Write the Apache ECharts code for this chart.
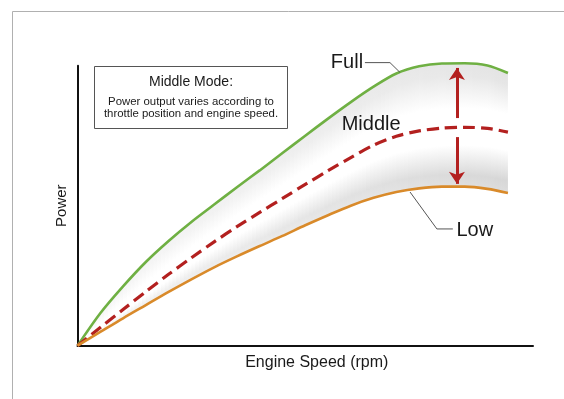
<!DOCTYPE html>
<html>
<head>
<meta charset="utf-8">
<script src="https://cdn.jsdelivr.net/npm/echarts@6/dist/echarts.min.js"></script>
<style>
  html, body { margin: 0; padding: 0; background: #ffffff; }
  #chart { width: 564px; height: 399px; }
</style>
</head>
<body>
<div id="chart"></div>
<script>
// ---- Data (arbitrary 0–100 units) ----
const engineSpeed = [0, 5, 10, 15, 20, 25, 30, 35, 40, 45, 50, 55, 60, 65, 70, 75, 80, 85, 90, 94.5];
const fullPower   = [0, 11.6, 21.2, 29.9, 37.4, 44.2, 50.4, 56.6, 62.6, 68.8, 75.0, 81.1, 87.0, 92.5, 97.2, 99.8, 100.8, 100.9, 100.1, 97.4];
const middlePower = [0, 6.5, 12.9, 19.3, 25.5, 31.4, 37.1, 42.5, 47.6, 52.6, 57.6, 62.5, 67.2, 71.6, 74.8, 76.7, 77.7, 78.0, 77.6, 76.3];
const lowPower    = [0, 4.9, 9.8, 14.5, 19.2, 23.7, 28.0, 31.9, 35.6, 39.2, 43.0, 46.6, 50.0, 52.8, 54.9, 56.2, 56.8, 56.8, 56.0, 54.5];

const seriesNames = ['Full', 'Middle', 'Low'];
const axisNames = { x: 'Engine Speed (rpm)', y: 'Power' };
const noteTitle = 'Middle Mode:';
const noteLines = ['Power output varies according to', 'throttle position and engine speed.'];

// arrows between curves (x position, [from, to])
const arrowX = 83.3;
const arrowUp = [81.3, 99.2];
const arrowDown = [74.5, 57.8];

// label anchors
const labelFull = [62.7, 101.0];
const labelMiddle = [58.0, 79.0];
const labelLow = [83.2, 41.3];
// leader lines
const leaderFull = [[63.1, 101.1], [68.6, 101.1], [70.8, 97.6]];
const leaderLow = [[73.0, 54.9], [78.9, 41.7], [82.4, 41.7]];

const FONT = '"Liberation Sans", Arial, Helvetica, sans-serif';
const C_FULL = '#6fb043';
const C_MID = '#b3201f';
const C_LOW = '#d98a2a';

const bandData = engineSpeed.slice(0, -1).map((x, i) => [
  x, fullPower[i], middlePower[i], lowPower[i],
  engineSpeed[i + 1], fullPower[i + 1], middlePower[i + 1], lowPower[i + 1]
]);

function grey(a) {
  const c = Math.round(255 * (1 - a));
  return 'rgb(' + c + ',' + c + ',' + c + ')';
}

function renderBand(params, api) {
  const x0 = api.value(0), x1 = api.value(4);
  const v0 = [api.value(1), api.value(2), api.value(3)];
  const v1 = [api.value(5), api.value(6), api.value(7)];
  const N = 6;
  const children = [];
  const last = params.dataIndex === bandData.length - 1;
  for (let s = 0; s < N; s++) {
    const ta = s / N, tb = (s + 1) / N;
    const xa = x0 + (x1 - x0) * ta, xb = x0 + (x1 - x0) * tb;
    const va = v0.map((v, k) => v + (v1[k] - v) * ta);
    const vb = v0.map((v, k) => v + (v1[k] - v) * tb);
    const fa = api.coord([xa, va[0]]), ma = api.coord([xa, va[1]]), la = api.coord([xa, va[2]]);
    const fb = api.coord([xb, vb[0]]), mb = api.coord([xb, vb[1]]), lb = api.coord([xb, vb[2]]);
    const ext = (last && s === N - 1) ? 0 : 0.7;
    const pb = (p) => [p[0] + ext, p[1]];
    const xm = (fa[0] + fb[0]) / 2;
    const fy = (fa[1] + fb[1]) / 2, my = (ma[1] + mb[1]) / 2, ly = (la[1] + lb[1]) / 2;
    const frac = xa / 95;
    const aUp = 0.03 + 0.08 * frac;
    const aLo = 0.04 + 0.12 * frac;
    children.push({
      type: 'polygon',
      shape: { points: [fa, pb(fb), pb(mb), ma] },
      style: {
        fill: new echarts.graphic.LinearGradient(xm, fy, xm, my, [
          { offset: 0, color: grey(aUp) },
          { offset: 0.2, color: grey(aUp * 0.9) },
          { offset: 0.7, color: '#ffffff' },
          { offset: 1, color: '#ffffff' }
        ], true)
      }
    });
    children.push({
      type: 'polygon',
      shape: { points: [ma, pb(mb), pb(lb), la] },
      style: {
        fill: new echarts.graphic.LinearGradient(xm, my, xm, ly, [
          { offset: 0, color: '#ffffff' },
          { offset: 0.3, color: '#ffffff' },
          { offset: 0.8, color: grey(aLo) },
          { offset: 1, color: grey(aLo * 0.85) }
        ], true)
      }
    });
  }
  return { type: 'group', children: children };
}

const chart = echarts.init(document.getElementById('chart'), null, { renderer: 'canvas' });

const axisCommon = {
  type: 'value', min: 0, max: 100,
  axisLine: { show: true, lineStyle: { color: '#111', width: 2 } },
  axisTick: { show: false }, axisLabel: { show: false }, splitLine: { show: false }
};

chart.setOption({
  backgroundColor: '#ffffff',
  animation: false,
  grid: { left: 77.5, right: 31, top: 65.7, bottom: 53.3 },
  xAxis: Object.assign({}, axisCommon, {
    name: axisNames.x, nameLocation: 'middle', nameGap: 9,
    nameTextStyle: { fontFamily: FONT, fontSize: 16, color: '#1a1a1a', padding: [0, 0, 0, 23] }
  }),
  yAxis: Object.assign({}, axisCommon, {
    name: axisNames.y, nameLocation: 'middle', nameGap: 8,
    nameTextStyle: { fontFamily: FONT, fontSize: 15, color: '#1a1a1a' }
  }),
  graphic: [
    {
      type: 'rect', z: -10, silent: true,
      shape: { x: 12.5, y: 11.5, width: 700, height: 500 },
      style: { fill: null, stroke: '#b0b0b0', lineWidth: 1 }
    },
    {
      type: 'rect', z: 10,
      shape: { x: 94.5, y: 66.5, width: 193, height: 62 },
      style: { fill: '#ffffff', stroke: '#555555', lineWidth: 1 }
    },
    {
      type: 'text', z: 11, x: 191, y: 81.7,
      style: { text: noteTitle, font: '14px ' + FONT, fill: '#1a1a1a', align: 'center', verticalAlign: 'middle' }
    },
    {
      type: 'text', z: 11, x: 191, y: 101.7,
      style: { text: noteLines[0], font: '11.4px ' + FONT, fill: '#1a1a1a', align: 'center', verticalAlign: 'middle' }
    },
    {
      type: 'text', z: 11, x: 191, y: 113.5,
      style: { text: noteLines[1], font: '11.4px ' + FONT, fill: '#1a1a1a', align: 'center', verticalAlign: 'middle' }
    }
  ],
  series: [
    {
      type: 'custom', name: 'band', z: 1, silent: true, clip: false,
      renderItem: renderBand,
      encode: { x: 0, y: 1 },
      data: bandData
    },
    {
      type: 'line', name: seriesNames[0], z: 5, clip: false, showSymbol: false, smooth: 0.3,
      lineStyle: { color: C_FULL, width: 2.6 },
      data: engineSpeed.map((x, i) => [x, fullPower[i]])
    },
    {
      type: 'line', name: seriesNames[1], z: 5, clip: false, showSymbol: false, smooth: 0.3,
      lineStyle: { color: C_MID, width: 3.2, type: [12, 6] },
      data: engineSpeed.map((x, i) => [x, middlePower[i]])
    },
    {
      type: 'line', name: seriesNames[2], z: 5, clip: false, showSymbol: false, smooth: 0.3,
      lineStyle: { color: C_LOW, width: 2.6 },
      data: engineSpeed.map((x, i) => [x, lowPower[i]])
    },
    {
      type: 'lines', coordinateSystem: 'cartesian2d', z: 6, silent: true, clip: false,
      symbol: ['none', 'arrow'], symbolSize: [0, 12],
      lineStyle: { color: C_MID, width: 3, opacity: 1 },
      data: [
        { coords: [[arrowX, arrowUp[0]], [arrowX, arrowUp[1]]] },
        { coords: [[arrowX, arrowDown[0]], [arrowX, arrowDown[1]]] }
      ]
    },
    {
      type: 'lines', coordinateSystem: 'cartesian2d', polyline: true, z: 6, silent: true, clip: false,
      lineStyle: { color: '#555555', width: 1, opacity: 1 },
      data: [{ coords: leaderFull }, { coords: leaderLow }]
    },
    {
      type: 'scatter', z: 7, silent: true, symbolSize: 0, clip: false,
      itemStyle: { opacity: 1 },
      label: {
        show: true, position: 'inside', formatter: '{b}',
        fontFamily: FONT, fontSize: 20, color: '#1a1a1a', verticalAlign: 'middle',
        textBorderWidth: 0, textShadowBlur: 0, opacity: 1
      },
      data: [
        { name: seriesNames[0], value: labelFull, label: { align: 'right' } },
        { name: seriesNames[1], value: labelMiddle, label: { align: 'left' } },
        { name: seriesNames[2], value: labelLow, label: { align: 'left' } }
      ]
    }
  ]
});
</script>
</body>
</html>
